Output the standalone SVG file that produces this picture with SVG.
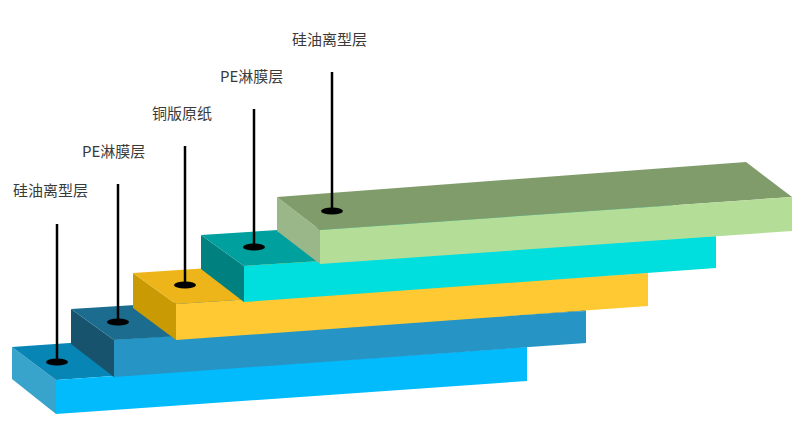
<svg xmlns="http://www.w3.org/2000/svg" width="800" height="439" viewBox="0 0 800 439">
<style>
  .lbl { font-family: "Noto Sans CJK SC", "Noto Sans", sans-serif; font-size: 15px; fill: #3a3a3a; }
  .lead { stroke: #000; stroke-width: 2.5; fill: none; }
  .dot { fill: #000; }
</style>
<rect width="800" height="439" fill="#fff"/>
<g id="layer1">
  <polygon points="12,347 56,380 56,414 12,379" fill="#38A3CB"/>
  <polygon points="12,347 483,314 527,347 56,380" fill="#0785B5"/>
  <polygon points="56,380 527,347 527,381 56,414" fill="#02BBFD"/>
  <text class="lbl" x="13" y="196">硅油离型层</text>
</g>
<g id="layer2">
  <polygon points="71,309 114,340 114,377 71,344" fill="#18536E"/>
  <polygon points="71,309 542,280 586,311 114,340" fill="#1B6C8E"/>
  <polygon points="114,340 586,311 586,343 114,377" fill="#2694C5"/>
  <text class="lbl" x="82" y="157">PE淋膜层</text>
</g>
<g id="layer3">
  <polygon points="133,273 176,304 176,340 133,308" fill="#C99A04"/>
  <polygon points="133,273 604,242 648,273 176,304" fill="#EEB51A"/>
  <polygon points="176,304 648,273 648,306 176,340" fill="#FEC933"/>
  <text class="lbl" x="152" y="119">铜版原纸</text>
</g>
<g id="layer4">
  <polygon points="201,235 244,266 244,302 201,269" fill="#00807E"/>
  <polygon points="201,235 672,205 716,236 244,266" fill="#00A09E"/>
  <polygon points="244,266 716,236 716,268 244,302" fill="#00DEDE"/>
  <text class="lbl" x="220" y="82">PE淋膜层</text>
</g>
<g id="layer5">
  <polygon points="277,197 320,230 320,264 277,231" fill="#9AB78A"/>
  <polygon points="277,197 746,162 792,197 320,230" fill="#809C6A"/>
  <polygon points="320,230 792,197 792,231 320,264" fill="#B4DD98"/>
  <text class="lbl" x="292" y="45">硅油离型层</text>
</g>
<g id="connectors">
  <line class="lead" x1="57" y1="224" x2="57" y2="361"/>
  <ellipse class="dot" cx="57" cy="362" rx="11" ry="3.6"/>
  <line class="lead" x1="118" y1="184" x2="118" y2="321"/>
  <ellipse class="dot" cx="118" cy="322" rx="11" ry="3.6"/>
  <line class="lead" x1="185" y1="146" x2="185" y2="284"/>
  <ellipse class="dot" cx="185" cy="285" rx="11" ry="3.6"/>
  <line class="lead" x1="254" y1="109" x2="254" y2="247"/>
  <ellipse class="dot" cx="254" cy="247" rx="11" ry="3.6"/>
  <line class="lead" x1="332" y1="72" x2="332" y2="210"/>
  <ellipse class="dot" cx="332" cy="211" rx="11" ry="3.6"/>
</g>
</svg>
